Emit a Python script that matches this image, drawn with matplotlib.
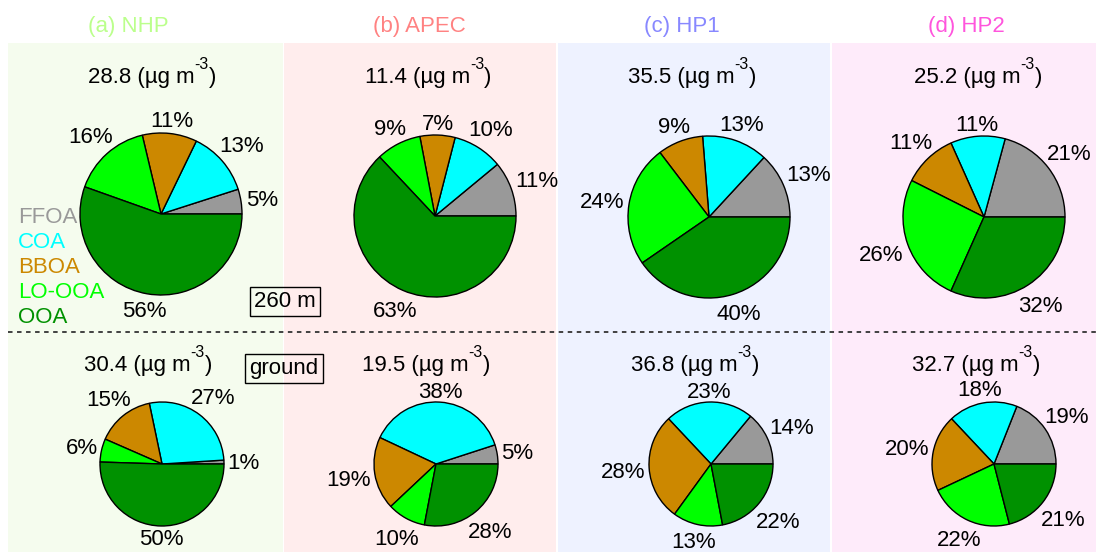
import numpy as np
import matplotlib
matplotlib.use('Agg')
import matplotlib.pyplot as plt
from matplotlib.patches import Rectangle

plt.rcParams['font.family'] = ['Liberation Sans', 'DejaVu Sans']

# OA factors, drawn counterclockwise from 3 o'clock
factors = ['FFOA', 'COA', 'BBOA', 'LO-OOA', 'OOA']
factor_colors = ['#999999', '#00ffff', '#cc8800', '#00ff00', '#009100']

sites = ['(a) NHP', '(b) APEC', '(c) HP1', '(d) HP2']
site_colors = ['#bbff8c', '#ff8282', '#8888ff', '#ff55dd']
panel_colors = ['#f5fcee', '#ffeded', '#eef2ff', '#feebfa']

# total OA mass (ug m-3)
mass_260m = [28.8, 11.4, 35.5, 25.2]
mass_ground = [30.4, 19.5, 36.8, 32.7]

# factor fractions (%)
nhp_260m = [5, 13, 11, 16, 56]
apec_260m = [11, 10, 7, 9, 63]
hp1_260m = [13, 13, 9, 24, 40]
hp2_260m = [21, 11, 11, 26, 32]
nhp_ground = [1, 27, 15, 6, 50]
apec_ground = [5, 38, 19, 10, 28]
hp1_ground = [14, 23, 28, 13, 22]
hp2_ground = [19, 18, 20, 22, 21]

frac_260m = [nhp_260m, apec_260m, hp1_260m, hp2_260m]
frac_ground = [nhp_ground, apec_ground, hp1_ground, hp2_ground]

W, H = 1096, 552
FS = 16

# layout in pixels, measured from the top
panel_x = [(8, 283), (284, 556), (558, 830), (832, 1096)]
title_x = [128, 419, 682, 966]
top_pie = [(161, 214), (435, 216), (709, 217), (984, 217)]
bot_pie = [(162, 464), (436, 464), (711, 464), (994, 464)]
top_mass_x = [152, 428, 692, 978]
bot_mass_x = [148, 426, 695, 976]
R_TOP, R_BOT = 81, 62

fig = plt.figure(figsize=(W / 100, H / 100), dpi=100)
ax = fig.add_axes([0, 0, 1, 1])

def Y(y):
    return H - y

mass_texts = []

def mass_label(xc, yb, value):
    # "xx.x (µg m" + raised "-3" + ")" ; centred after the first draw
    t1 = ax.text(0, Y(yb), f'{value} (µg m', fontsize=FS, ha='left', va='baseline')
    t2 = ax.text(0, Y(yb) + 14, '-3', fontsize=FS * 0.72, ha='left', va='baseline')
    t3 = ax.text(0, Y(yb), ')', fontsize=FS, ha='left', va='baseline')
    mass_texts.append((xc, [t1, t2, t3]))

for i in range(4):
    x0, x1 = panel_x[i]
    ax.add_patch(Rectangle((x0, 0), x1 - x0, Y(43), facecolor=panel_colors[i],
                           edgecolor='none', zorder=0))
    ax.text(title_x[i], Y(32), sites[i], color=site_colors[i], fontsize=FS,
            ha='center', va='baseline')
    mass_label(top_mass_x[i], 83, mass_260m[i])
    mass_label(bot_mass_x[i], 371, mass_ground[i])

label_info = []

def draw_pie(vals, center, r):
    cx, cy = center[0], Y(center[1])
    wedges, texts = ax.pie(vals, colors=factor_colors, startangle=0, counterclock=True,
                           center=(cx, cy), radius=r, frame=True,
                           labels=[f'{v}%' for v in vals], labeldistance=1.1,
                           wedgeprops=dict(edgecolor='black', linewidth=1.0),
                           textprops=dict(fontsize=FS))
    cum = np.cumsum(vals)
    mids = 2 * np.pi * (cum - np.array(vals) / 2) / cum[-1]
    for t, a in zip(texts, mids):
        t.set_ha('center')
        t.set_va('center_baseline')
        label_info.append((t, a, cx, cy, r))

for i in range(4):
    draw_pie(frac_260m[i], top_pie[i], R_TOP)
    draw_pie(frac_ground[i], bot_pie[i], R_BOT)

# factor legend
legend_y = [223, 248, 273, 298, 323]
for name, col, yy in zip(factors, factor_colors, legend_y):
    ax.text(18, Y(yy), name, color=col, fontsize=FS, ha='left', va='baseline')

ax.plot([8, W], [Y(332), Y(332)], color='#333333', lw=1.3, ls=(0, (2.5, 2.5)))

box = dict(boxstyle='square,pad=0.2', facecolor='none', edgecolor='black', linewidth=1.0)
ax.text(285, Y(299), '260 m', fontsize=FS, ha='center', va='center_baseline', bbox=box)
ax.text(284, Y(366), 'ground', fontsize=FS, ha='center', va='center_baseline', bbox=box)

ax.set_xlim(0, W)
ax.set_ylim(0, H)
ax.set_axis_off()

fig.canvas.draw()
# push percentage labels out so the text box clears the pie edge
for t, a, cx, cy, r in label_info:
    bb = t.get_window_extent()
    off = 1.05 * r + abs(np.cos(a)) * bb.width / 2 + abs(np.sin(a)) * 8
    t.set_position((cx + off * np.cos(a), cy + off * np.sin(a)))
# centre the three-part mass labels
for xc, parts in mass_texts:
    widths = [p.get_window_extent().width for p in parts]
    x = xc - sum(widths) / 2
    for p, w in zip(parts, widths):
        p.set_x(x)
        x += w

fig.savefig('out.png', dpi=100, facecolor='white')
